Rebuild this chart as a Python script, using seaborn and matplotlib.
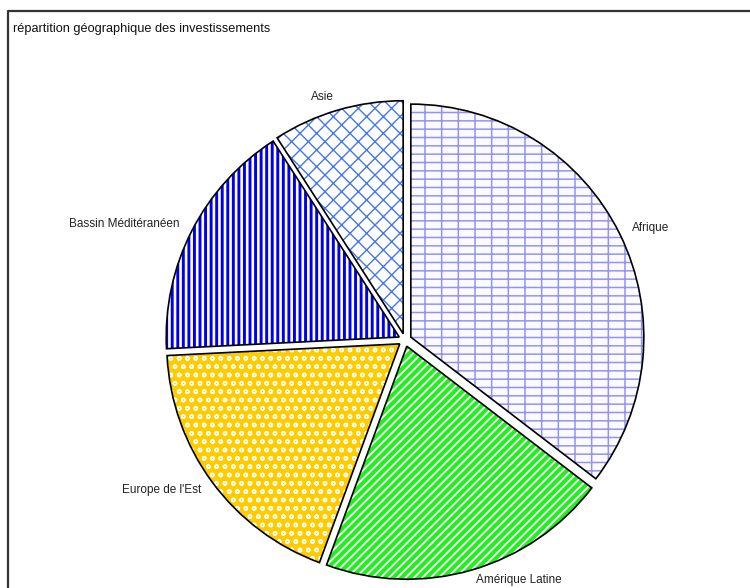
import matplotlib
matplotlib.use("Agg")
import matplotlib.pyplot as plt
import seaborn as sns
from matplotlib.lines import Line2D

# data (shares in %)
regions = ["Afrique", "Amérique Latine", "Europe de l'Est", "Bassin Méditéranéen", "Asie"]
shares = [35.4, 20.2, 18.6, 16.7, 9.1]

# fill styles
faces = ["#fbfbff", "#22ee22", "#ffcc00", "#0000ee", "white"]
hatch_colors = ["#9494f0", "white", "white", "white", "#4477ee"]
hatches = ["--|", "////", "oo", "|||", "xx"]
hatch_widths = [1.1, 1.3, 1.0, 1.9, 1.0]

sns.set_theme(style="white")
plt.rcParams["font.family"] = ["Liberation Sans", "DejaVu Sans"]
plt.rcParams["hatch.linewidth"] = 1.2

W, H = 750, 588
fig = plt.figure(figsize=(W / 100, H / 100), dpi=100)
ax = fig.add_axes([0, 0, 1, 1])

center = (405, H - 340)
R = 233
explode = [6.5] * len(shares)

# hatched fills
wedges, _ = ax.pie(shares, explode=explode, startangle=90, counterclock=False,
                   radius=R, center=center, colors=faces,
                   wedgeprops=dict(linewidth=0))
for w, ec, h, hw in zip(wedges, hatch_colors, hatches, hatch_widths):
    w.set_edgecolor(ec)
    w.set_hatch(h)
    if hasattr(w, "set_hatch_linewidth"):
        w.set_hatch_linewidth(hw)

# black outlines + labels
_, texts = ax.pie(shares, explode=explode, labels=regions, labeldistance=1.06,
                  startangle=90, counterclock=False, radius=R, center=center,
                  wedgeprops=dict(fill=False, edgecolor="black", linewidth=1.2),
                  textprops=dict(fontsize=8.5, color="#222222"))
for t in texts:
    x, y = t.get_position()
    t.set_ha("left" if x > center[0] else "right")
    if y < 8:  # keep the bottom label inside the picture
        t.set_position((x, 8))

ax.set_xlim(0, W)
ax.set_ylim(0, H)
ax.set_aspect("equal")
ax.axis("off")

# chart frame (left and top edges visible)
x0, y0 = 8 / W, 1 - 11 / H
fig.add_artist(Line2D([x0, x0, 1.1], [-0.1, y0, y0], color="#333333",
                      linewidth=1.6, transform=fig.transFigure))

fig.text(13 / W, 1 - 32 / H, "répartition géographique des investissements",
         fontsize=9.2, color="#111111", va="baseline", ha="left")

fig.savefig("out.png", dpi=100)
